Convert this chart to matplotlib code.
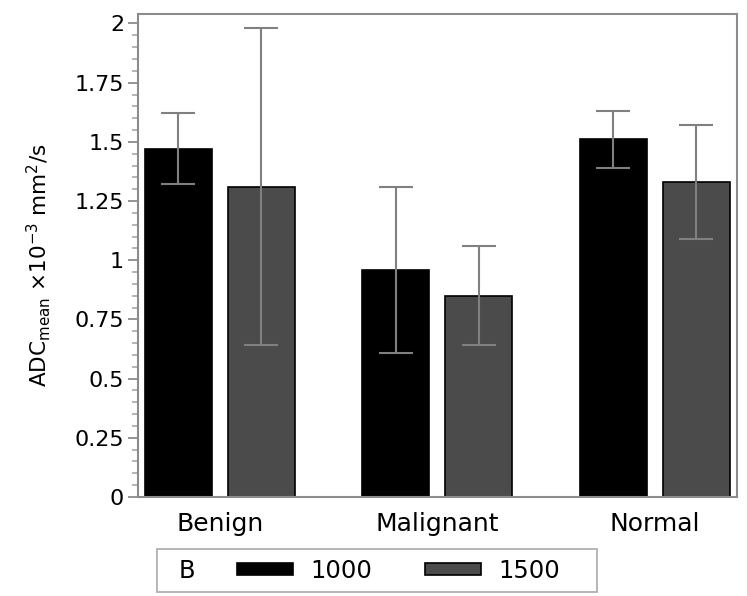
import numpy as np
import matplotlib
matplotlib.use("Agg")
import matplotlib.pyplot as plt
from matplotlib.patches import Rectangle
from matplotlib.ticker import MultipleLocator, FixedLocator

# data
groups = ["Benign", "Malignant", "Normal"]
b_values = ["1000", "1500"]
mean_1000 = [1.47, 0.96, 1.51]
err_1000 = [0.15, 0.35, 0.12]
mean_1500 = [1.31, 0.85, 1.33]
err_1500 = [0.67, 0.21, 0.24]
y_ticks = [0, 0.25, 0.5, 0.75, 1, 1.25, 1.5, 1.75, 2]
y_tick_labels = ["0", "0.25", "0.5", "0.75", "1", "1.25", "1.5", "1.75", "2"]

fig = plt.figure(figsize=(7.47, 5.96), dpi=100)
ax = fig.add_axes([138/747, 99/596, 599/747, 483/596])

x = np.arange(len(groups))
w = 0.308
off = 0.19
ekw = dict(ecolor="#808080", elinewidth=1.5, capsize=12, capthick=1.5, zorder=3)
b1 = ax.bar(x - off, mean_1000, w, yerr=err_1000, color="black",
            edgecolor="black", linewidth=1.2, error_kw=ekw, label=b_values[0])
b2 = ax.bar(x + off, mean_1500, w, yerr=err_1500, color="#4b4b4b",
            edgecolor="black", linewidth=1.2, error_kw=ekw, label=b_values[1])

ax.set_xlim(-0.376, 2.378)
ax.set_ylim(0, 2.04)
ax.yaxis.set_major_locator(FixedLocator(y_ticks))
ax.set_yticklabels(y_tick_labels)
ax.yaxis.set_minor_locator(MultipleLocator(0.05))
ax.set_xticks(x)
ax.set_xticklabels(groups)

for s in ax.spines.values():
    s.set_color("#8c8c8c")
    s.set_linewidth(1.5)
ax.tick_params(axis="y", which="major", length=7, width=1.3, color="#8c8c8c",
               labelsize=16, pad=3)
ax.tick_params(axis="y", which="minor", length=4, width=1.1, color="#a0a0a0")
ax.tick_params(axis="x", length=0, labelsize=18, pad=11)

ax.set_ylabel(r"ADC$_{\mathrm{mean}}$ ×10$^{-3}$ mm$^{2}$/s", fontsize=15.5)
ax.yaxis.set_label_coords(-0.142, 0.48)

# legend box at the bottom
fig.add_artist(Rectangle((157/747, 4/596), 440/747, 43/596,
                         transform=fig.transFigure, fill=False,
                         edgecolor="#b0b0b0", linewidth=1.3))
fig.text(187/747, 0.042, "B", fontsize=17.5, ha="center", va="center")
fig.legend([b1, b2], b_values, ncol=2, frameon=False, fontsize=17.5,
           loc="center left", bbox_to_anchor=(237/747, 0.042),
           borderaxespad=0, borderpad=0, handlelength=2.3, handleheight=0.4,
           handletextpad=0.7, columnspacing=2.2)

fig.savefig("out.png", dpi=100)
